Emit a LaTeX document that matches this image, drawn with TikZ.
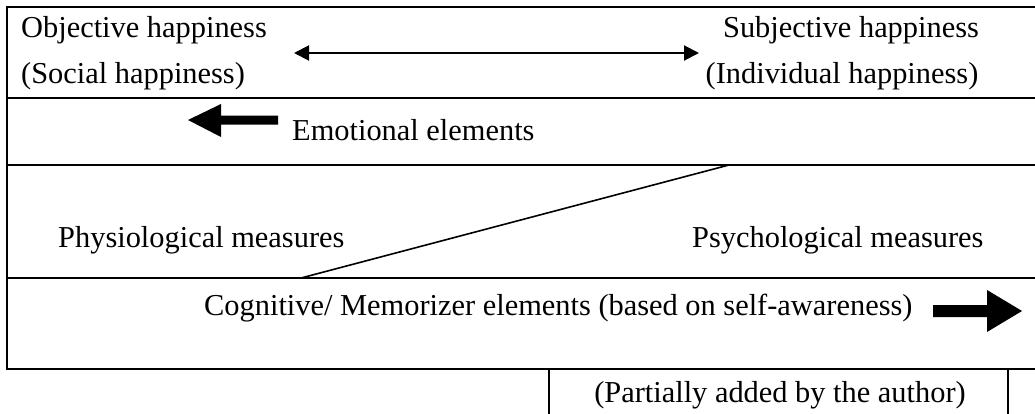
\documentclass[tikz,border=0pt]{standalone}
\usepackage{fontspec}
\setmainfont{Liberation Serif}
\usetikzlibrary{arrows.meta}
\begin{document}
\begin{tikzpicture}[x=1pt,y=-1pt,
  rule/.style={line width=2pt},
  txt/.style={inner sep=0pt,font=\fontsize{30.4}{36}\selectfont}]
\useasboundingbox (0,0) rectangle (1035,413);
% frame
\draw[rule] (1040,7) -- (7,7) -- (7,369) -- (1040,369);
\draw[rule] (7,98) -- (1040,98);
\draw[rule] (7,165) -- (1040,165);
\draw[rule] (7,278) -- (1040,278);
\draw[rule] (549,369) -- (549,420);
\draw[rule] (1008,369) -- (1008,420);
% diagonal
\coordinate (d1) at (301,278);
\coordinate (d2) at (729,165);
\draw[line width=1.6pt] (d1) -- (d2);
% texts
\node[txt,anchor=base west] (obj) at (21,37) {Objective happiness};
\node[txt,anchor=base west] (soc) at (21,83) {(Social happiness)};
\node[txt,anchor=base] (subj) at (851,37) {Subjective happiness};
\node[txt,anchor=base] (ind) at (842,83) {(Individual happiness)};
\node[txt,anchor=base west] (emo) at (292,140) {Emotional elements};
\node[txt,anchor=base west] (phys) at (58,247) {Physiological measures};
\node[txt,anchor=base west] (psy) at (692,247) {Psychological measures};
\node[txt,anchor=base west] (cog) at (204,315) {Cognitive/ Memorizer elements (based on self-awareness)};
\node[txt,anchor=base] (part) at (780,402) {(Partially added by the author)};
% double arrow
\coordinate (al) at (294,53);
\coordinate (ar) at (699,53);
\draw[line width=2pt,{Triangle[length=15pt,width=15pt]}-{Triangle[length=15pt,width=15pt]}] (al) -- (ar);
% thick arrows
\fill (188,120) -- (221,104) -- (221,115.5) -- (278,115.5) -- (278,124.5) -- (221,124.5) -- (221,137) -- cycle;
\fill (1022,311) -- (987,290) -- (987,305) -- (933,305) -- (933,317) -- (987,317) -- (987,332) -- cycle;
\end{tikzpicture}
\end{document}
